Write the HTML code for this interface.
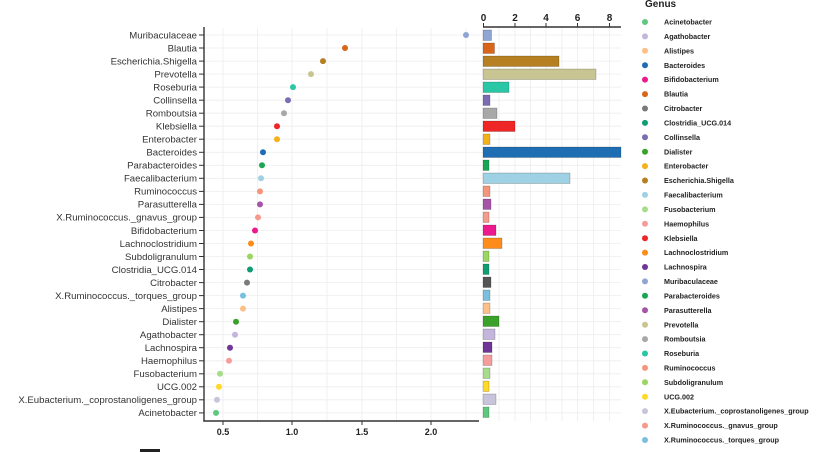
<!DOCTYPE html>
<html><head><meta charset="utf-8"><style>
html,body{margin:0;padding:0;background:#fff;}
svg{display:block;font-family:"Liberation Sans",sans-serif;}
.l{font-size:9.6px;fill:#333;text-anchor:end;}
.g{font-size:7.2px;font-weight:bold;fill:#222;}
.t{font-size:9px;font-weight:bold;fill:#222;text-anchor:middle;}
</style></head><body>
<svg width="832" height="452" viewBox="0 0 832 452">
<g stroke="#ececec" stroke-width="0.8">
<line x1="223" y1="28" x2="223" y2="421"/><line x1="257.5" y1="28" x2="257.5" y2="421"/><line x1="292" y1="28" x2="292" y2="421"/><line x1="327" y1="28" x2="327" y2="421"/><line x1="362" y1="28" x2="362" y2="421"/><line x1="396.5" y1="28" x2="396.5" y2="421"/><line x1="431" y1="28" x2="431" y2="421"/><line x1="466" y1="28" x2="466" y2="421"/>
<line x1="499" y1="27" x2="499" y2="421"/><line x1="515" y1="27" x2="515" y2="421"/><line x1="530.5" y1="27" x2="530.5" y2="421"/><line x1="546" y1="27" x2="546" y2="421"/><line x1="562" y1="27" x2="562" y2="421"/><line x1="577.5" y1="27" x2="577.5" y2="421"/><line x1="593.5" y1="27" x2="593.5" y2="421"/><line x1="609.5" y1="27" x2="609.5" y2="421"/>
</g>
<g stroke="#eeeeee" stroke-width="0.8">
<line x1="204" x2="621" y1="35" y2="35"/><line x1="204" x2="621" y1="48" y2="48"/><line x1="204" x2="621" y1="61.1" y2="61.1"/><line x1="204" x2="621" y1="74.1" y2="74.1"/><line x1="204" x2="621" y1="87.1" y2="87.1"/><line x1="204" x2="621" y1="100.2" y2="100.2"/><line x1="204" x2="621" y1="113.2" y2="113.2"/><line x1="204" x2="621" y1="126.2" y2="126.2"/><line x1="204" x2="621" y1="139.2" y2="139.2"/><line x1="204" x2="621" y1="152.3" y2="152.3"/><line x1="204" x2="621" y1="165.3" y2="165.3"/><line x1="204" x2="621" y1="178.3" y2="178.3"/><line x1="204" x2="621" y1="191.4" y2="191.4"/><line x1="204" x2="621" y1="204.4" y2="204.4"/><line x1="204" x2="621" y1="217.4" y2="217.4"/><line x1="204" x2="621" y1="230.5" y2="230.5"/><line x1="204" x2="621" y1="243.5" y2="243.5"/><line x1="204" x2="621" y1="256.5" y2="256.5"/><line x1="204" x2="621" y1="269.5" y2="269.5"/><line x1="204" x2="621" y1="282.6" y2="282.6"/><line x1="204" x2="621" y1="295.6" y2="295.6"/><line x1="204" x2="621" y1="308.6" y2="308.6"/><line x1="204" x2="621" y1="321.7" y2="321.7"/><line x1="204" x2="621" y1="334.7" y2="334.7"/><line x1="204" x2="621" y1="347.7" y2="347.7"/><line x1="204" x2="621" y1="360.8" y2="360.8"/><line x1="204" x2="621" y1="373.8" y2="373.8"/><line x1="204" x2="621" y1="386.8" y2="386.8"/><line x1="204" x2="621" y1="399.8" y2="399.8"/><line x1="204" x2="621" y1="412.9" y2="412.9"/>
</g>
<g stroke="#333" stroke-width="1.4">
<line x1="204" y1="27" x2="204" y2="421.5"/><line x1="203.3" y1="421" x2="479" y2="421"/>
<line x1="483" y1="27" x2="621" y2="27"/>
</g>
<g stroke="#333" stroke-width="1">
<line x1="199" x2="204" y1="35" y2="35"/><line x1="199" x2="204" y1="48" y2="48"/><line x1="199" x2="204" y1="61.1" y2="61.1"/><line x1="199" x2="204" y1="74.1" y2="74.1"/><line x1="199" x2="204" y1="87.1" y2="87.1"/><line x1="199" x2="204" y1="100.2" y2="100.2"/><line x1="199" x2="204" y1="113.2" y2="113.2"/><line x1="199" x2="204" y1="126.2" y2="126.2"/><line x1="199" x2="204" y1="139.2" y2="139.2"/><line x1="199" x2="204" y1="152.3" y2="152.3"/><line x1="199" x2="204" y1="165.3" y2="165.3"/><line x1="199" x2="204" y1="178.3" y2="178.3"/><line x1="199" x2="204" y1="191.4" y2="191.4"/><line x1="199" x2="204" y1="204.4" y2="204.4"/><line x1="199" x2="204" y1="217.4" y2="217.4"/><line x1="199" x2="204" y1="230.5" y2="230.5"/><line x1="199" x2="204" y1="243.5" y2="243.5"/><line x1="199" x2="204" y1="256.5" y2="256.5"/><line x1="199" x2="204" y1="269.5" y2="269.5"/><line x1="199" x2="204" y1="282.6" y2="282.6"/><line x1="199" x2="204" y1="295.6" y2="295.6"/><line x1="199" x2="204" y1="308.6" y2="308.6"/><line x1="199" x2="204" y1="321.7" y2="321.7"/><line x1="199" x2="204" y1="334.7" y2="334.7"/><line x1="199" x2="204" y1="347.7" y2="347.7"/><line x1="199" x2="204" y1="360.8" y2="360.8"/><line x1="199" x2="204" y1="373.8" y2="373.8"/><line x1="199" x2="204" y1="386.8" y2="386.8"/><line x1="199" x2="204" y1="399.8" y2="399.8"/><line x1="199" x2="204" y1="412.9" y2="412.9"/>
<line x1="223" x2="223" y1="421" y2="425"/><line x1="292" x2="292" y1="421" y2="425"/><line x1="362" x2="362" y1="421" y2="425"/><line x1="431" x2="431" y1="421" y2="425"/>
<line x1="483.5" x2="483.5" y1="23" y2="27"/><line x1="515" x2="515" y1="23" y2="27"/><line x1="546" x2="546" y1="23" y2="27"/><line x1="577.5" x2="577.5" y1="23" y2="27"/><line x1="609.5" x2="609.5" y1="23" y2="27"/>
</g>
<g class="t">
<text x="223" y="435">0.5</text><text x="292" y="435">1.0</text><text x="362" y="435">1.5</text><text x="431" y="435">2.0</text>
<text x="483.5" y="21" font-size="10">0</text><text x="515" y="21" font-size="10">2</text><text x="546" y="21" font-size="10">4</text><text x="577.5" y="21" font-size="10">6</text><text x="609.5" y="21" font-size="10">8</text>
</g>
<g class="l">
<text x="197" y="38.3">Muribaculaceae</text><text x="197" y="51.3">Blautia</text><text x="197" y="64.4">Escherichia.Shigella</text><text x="197" y="77.4">Prevotella</text><text x="197" y="90.4">Roseburia</text><text x="197" y="103.5">Collinsella</text><text x="197" y="116.5">Romboutsia</text><text x="197" y="129.5">Klebsiella</text><text x="197" y="142.5">Enterobacter</text><text x="197" y="155.6">Bacteroides</text><text x="197" y="168.6">Parabacteroides</text><text x="197" y="181.6">Faecalibacterium</text><text x="197" y="194.7">Ruminococcus</text><text x="197" y="207.7">Parasutterella</text><text x="197" y="220.7">X.Ruminococcus._gnavus_group</text><text x="197" y="233.8">Bifidobacterium</text><text x="197" y="246.8">Lachnoclostridium</text><text x="197" y="259.8">Subdoligranulum</text><text x="197" y="272.8">Clostridia_UCG.014</text><text x="197" y="285.9">Citrobacter</text><text x="197" y="298.9">X.Ruminococcus._torques_group</text><text x="197" y="311.9">Alistipes</text><text x="197" y="325">Dialister</text><text x="197" y="338">Agathobacter</text><text x="197" y="351">Lachnospira</text><text x="197" y="364.1">Haemophilus</text><text x="197" y="377.1">Fusobacterium</text><text x="197" y="390.1">UCG.002</text><text x="197" y="403.1">X.Eubacterium._coprostanoligenes_group</text><text x="197" y="416.2">Acinetobacter</text>
</g>
<g>
<circle cx="466" cy="35" r="3" fill="#8fa5d4"/><circle cx="345" cy="48" r="3" fill="#d9651a"/><circle cx="323" cy="61.1" r="3" fill="#b57f22"/><circle cx="311" cy="74.1" r="3" fill="#c8c592"/><circle cx="293" cy="87.1" r="3" fill="#29c7a5"/><circle cx="288" cy="100.2" r="3" fill="#7b6cb4"/><circle cx="284" cy="113.2" r="3" fill="#a8a8a8"/><circle cx="277" cy="126.2" r="3" fill="#ef2626"/><circle cx="277" cy="139.2" r="3" fill="#f4b11a"/><circle cx="263" cy="152.3" r="3" fill="#1f6eb4"/><circle cx="262" cy="165.3" r="3" fill="#1aa655"/><circle cx="261" cy="178.3" r="3" fill="#9ed1e3"/><circle cx="260" cy="191.4" r="3" fill="#f5957a"/><circle cx="260" cy="204.4" r="3" fill="#a654a8"/><circle cx="258" cy="217.4" r="3" fill="#f59a8c"/><circle cx="255" cy="230.5" r="3" fill="#ec1a8c"/><circle cx="251" cy="243.5" r="3" fill="#fd8c1a"/><circle cx="250" cy="256.5" r="3" fill="#9ad660"/><circle cx="250" cy="269.5" r="3" fill="#0f9d73"/><circle cx="247" cy="282.6" r="3" fill="#7a7a7a"/><circle cx="243" cy="295.6" r="3" fill="#79c0e0"/><circle cx="243" cy="308.6" r="3" fill="#fdbf86"/><circle cx="236" cy="321.7" r="3" fill="#3aa12a"/><circle cx="235" cy="334.7" r="3" fill="#c3b5dc"/><circle cx="230" cy="347.7" r="3" fill="#6f3597"/><circle cx="229" cy="360.8" r="3" fill="#f79c9c"/><circle cx="220" cy="373.8" r="3" fill="#a6dc8a"/><circle cx="219" cy="386.8" r="3" fill="#ffd927"/><circle cx="217" cy="399.8" r="3" fill="#c8c4dc"/><circle cx="216" cy="412.9" r="3" fill="#5ec87f"/>
</g>
<g stroke="rgba(0,0,0,0.25)" stroke-width="0.7">
<rect x="483" y="30" width="8.5" height="10.5" fill="#8fa5d4"/><rect x="483" y="43" width="11.5" height="10.5" fill="#d9651a"/><rect x="483" y="56" width="76" height="10.5" fill="#b57f22"/><rect x="483" y="69" width="113" height="10.5" fill="#c8c592"/><rect x="483" y="82" width="26" height="10.5" fill="#29c7a5"/><rect x="483" y="95" width="7" height="10.5" fill="#7b6cb4"/><rect x="483" y="108" width="14" height="10.5" fill="#a8a8a8"/><rect x="483" y="121" width="32" height="10.5" fill="#ef2626"/><rect x="483" y="134" width="7" height="10.5" fill="#f4b11a"/><rect x="483" y="147" width="138" height="10.5" fill="#1f6eb4"/><rect x="483" y="160" width="6" height="10.5" fill="#1aa655"/><rect x="483" y="173" width="87" height="10.5" fill="#9ed1e3"/><rect x="483" y="186" width="7" height="10.5" fill="#f5957a"/><rect x="483" y="199" width="8" height="10.5" fill="#a654a8"/><rect x="483" y="212" width="6" height="10.5" fill="#f59a8c"/><rect x="483" y="225" width="13" height="10.5" fill="#ec1a8c"/><rect x="483" y="238" width="19" height="10.5" fill="#fd8c1a"/><rect x="483" y="251" width="6" height="10.5" fill="#9ad660"/><rect x="483" y="264" width="6" height="10.5" fill="#0f9d73"/><rect x="483" y="277" width="8" height="10.5" fill="#555"/><rect x="483" y="290" width="7" height="10.5" fill="#79c0e0"/><rect x="483" y="303" width="7" height="10.5" fill="#fdbf86"/><rect x="483" y="316" width="16" height="10.5" fill="#3aa12a"/><rect x="483" y="329" width="12" height="10.5" fill="#c3b5dc"/><rect x="483" y="342" width="9" height="10.5" fill="#6f3597"/><rect x="483" y="355" width="9" height="10.5" fill="#f79c9c"/><rect x="483" y="368" width="7" height="10.5" fill="#a6dc8a"/><rect x="483" y="381" width="6" height="10.5" fill="#ffd927"/><rect x="483" y="394" width="13" height="10.5" fill="#c8c4dc"/><rect x="483" y="407" width="6" height="10.5" fill="#5ec87f"/>
</g>
<text x="645" y="7" font-size="10" font-weight="bold" fill="#222">Genus</text>
<g>
<circle cx="645" cy="22" r="3" fill="#5ec87f"/><circle cx="645" cy="36.4" r="3" fill="#c3b5dc"/><circle cx="645" cy="50.8" r="3" fill="#fdbf86"/><circle cx="645" cy="65.2" r="3" fill="#1f6eb4"/><circle cx="645" cy="79.6" r="3" fill="#ec1a8c"/><circle cx="645" cy="94.1" r="3" fill="#d9651a"/><circle cx="645" cy="108.5" r="3" fill="#7a7a7a"/><circle cx="645" cy="122.9" r="3" fill="#0f9d73"/><circle cx="645" cy="137.3" r="3" fill="#7b6cb4"/><circle cx="645" cy="151.7" r="3" fill="#3aa12a"/><circle cx="645" cy="166.1" r="3" fill="#f4b11a"/><circle cx="645" cy="180.5" r="3" fill="#b57f22"/><circle cx="645" cy="194.9" r="3" fill="#9ed1e3"/><circle cx="645" cy="209.4" r="3" fill="#a6dc8a"/><circle cx="645" cy="223.8" r="3" fill="#f79c9c"/><circle cx="645" cy="238.2" r="3" fill="#ef2626"/><circle cx="645" cy="252.6" r="3" fill="#fd8c1a"/><circle cx="645" cy="267" r="3" fill="#6f3597"/><circle cx="645" cy="281.4" r="3" fill="#8fa5d4"/><circle cx="645" cy="295.8" r="3" fill="#1aa655"/><circle cx="645" cy="310.2" r="3" fill="#a654a8"/><circle cx="645" cy="324.7" r="3" fill="#c8c592"/><circle cx="645" cy="339.1" r="3" fill="#a8a8a8"/><circle cx="645" cy="353.5" r="3" fill="#29c7a5"/><circle cx="645" cy="367.9" r="3" fill="#f5957a"/><circle cx="645" cy="382.3" r="3" fill="#9ad660"/><circle cx="645" cy="396.7" r="3" fill="#ffd927"/><circle cx="645" cy="411.1" r="3" fill="#c8c4dc"/><circle cx="645" cy="425.6" r="3" fill="#f59a8c"/><circle cx="645" cy="440" r="3" fill="#79c0e0"/>
</g>
<g class="g">
<text x="664" y="24.6">Acinetobacter</text><text x="664" y="39">Agathobacter</text><text x="664" y="53.4">Alistipes</text><text x="664" y="67.8">Bacteroides</text><text x="664" y="82.2">Bifidobacterium</text><text x="664" y="96.7">Blautia</text><text x="664" y="111.1">Citrobacter</text><text x="664" y="125.5">Clostridia_UCG.014</text><text x="664" y="139.9">Collinsella</text><text x="664" y="154.3">Dialister</text><text x="664" y="168.7">Enterobacter</text><text x="664" y="183.1">Escherichia.Shigella</text><text x="664" y="197.5">Faecalibacterium</text><text x="664" y="212">Fusobacterium</text><text x="664" y="226.4">Haemophilus</text><text x="664" y="240.8">Klebsiella</text><text x="664" y="255.2">Lachnoclostridium</text><text x="664" y="269.6">Lachnospira</text><text x="664" y="284">Muribaculaceae</text><text x="664" y="298.4">Parabacteroides</text><text x="664" y="312.8">Parasutterella</text><text x="664" y="327.3">Prevotella</text><text x="664" y="341.7">Romboutsia</text><text x="664" y="356.1">Roseburia</text><text x="664" y="370.5">Ruminococcus</text><text x="664" y="384.9">Subdoligranulum</text><text x="664" y="399.3">UCG.002</text><text x="664" y="413.7">X.Eubacterium._coprostanoligenes_group</text><text x="664" y="428.2">X.Ruminococcus._gnavus_group</text><text x="664" y="442.6">X.Ruminococcus._torques_group</text>
</g>
<rect x="140" y="449" width="20" height="3" fill="#222"/>
</svg>
</body></html>
